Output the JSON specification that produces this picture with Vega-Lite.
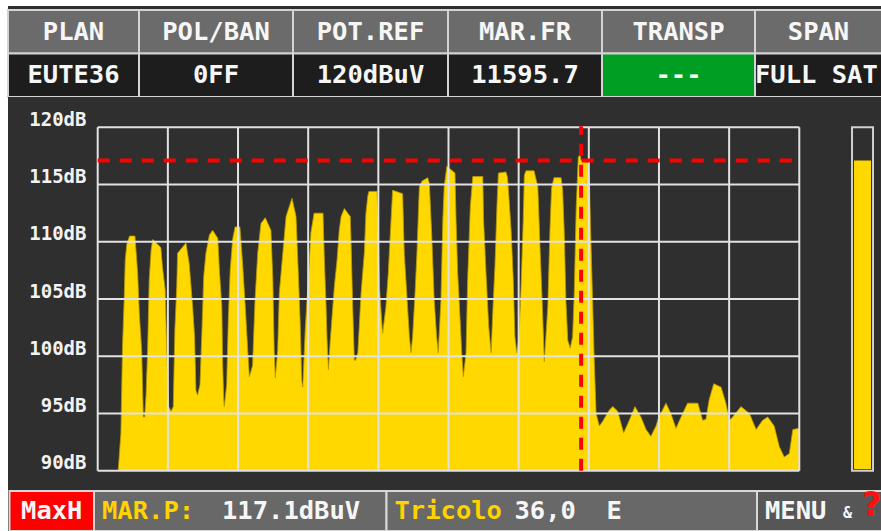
{
  "$schema": "https://vega.github.io/schema/vega-lite/v6.json",
  "padding": {"left": 7, "top": 6, "right": 0, "bottom": 0},
  "background": "#ffffff",
  "spacing": 0,
  "bounds": "flush",
  "resolve": {"scale": {"color": "independent"}},
  "config": {"view": {"fill": "#2f2f2f", "stroke": null}, "concat": {"spacing": 0}},
  "datasets": {
    "header": [
      {"row": "head", "col": 0, "span": 1, "kind": "head", "ctext": "PLAN", "ltext": ""},
      {"row": "head", "col": 1, "span": 1, "kind": "head", "ctext": "POL/BAN", "ltext": ""},
      {"row": "head", "col": 2, "span": 1, "kind": "head", "ctext": "POT.REF", "ltext": ""},
      {"row": "head", "col": 3, "span": 1, "kind": "head", "ctext": "MAR.FR", "ltext": ""},
      {"row": "head", "col": 4, "span": 1, "kind": "head", "ctext": "TRANSP", "ltext": ""},
      {"row": "head", "col": 5, "span": 1, "kind": "head", "ctext": "SPAN", "ltext": ""},
      {"row": "val", "col": 0, "span": 1, "kind": "val", "ctext": "EUTE36", "ltext": ""},
      {"row": "val", "col": 1, "span": 1, "kind": "val", "ctext": "0FF", "ltext": ""},
      {"row": "val", "col": 2, "span": 1, "kind": "val", "ctext": "120dBuV", "ltext": ""},
      {"row": "val", "col": 3, "span": 1, "kind": "val", "ctext": "11595.7", "ltext": ""},
      {"row": "val", "col": 4, "span": 1, "kind": "active", "ctext": "---", "ltext": ""},
      {"row": "val", "col": 5, "span": 1, "kind": "val", "ctext": "", "ltext": "FULL SAT"}
    ],
    "footer": [
      {"seg": 0, "band": "f", "span": 1, "kind": "mode", "mode": "MaxH", "label": "", "value": "", "menu": "", "amp": "", "help": ""},
      {"seg": 1, "band": "f", "span": 1, "kind": "info", "mode": "", "label": "MAR.P:", "value": "117.1dBuV", "menu": "", "amp": "", "help": ""},
      {"seg": 2, "band": "f", "span": 1, "kind": "info", "mode": "", "label": "Tricolo", "value": "36,0\u00a0\u00a0E", "menu": "", "amp": "", "help": ""},
      {"seg": 3, "band": "f", "span": 1, "kind": "menu", "mode": "", "label": "", "value": "", "menu": "MENU", "amp": "&", "help": "?"}
    ],
    "marker": [{"freq": 11595.7, "level": 117.1}],
    "hgrid": [{"dB": 90}, {"dB": 95}, {"dB": 100}, {"dB": 105}, {"dB": 110}, {"dB": 115}, {"dB": 120}],
    "vgrid": [{"f": 10700}, {"f": 10830}, {"f": 10960}, {"f": 11090}, {"f": 11220}, {"f": 11350}, {"f": 11480}, {"f": 11610}, {"f": 11740}, {"f": 11870}, {"f": 12000}],
    "spectrum": [
      {"f": 10738, "dB": 90}, {"f": 10743, "dB": 93.3}, {"f": 10746, "dB": 100.8}, {"f": 10749, "dB": 104.9}, {"f": 10751, "dB": 108.4}, {"f": 10754, "dB": 109.8}, {"f": 10759, "dB": 110.5}, {"f": 10769, "dB": 110.5}, {"f": 10774, "dB": 107.3}, {"f": 10777, "dB": 103.8}, {"f": 10781.5, "dB": 100.5}, {"f": 10784.5, "dB": 94.7}, {"f": 10787, "dB": 94.7}, {"f": 10789.5, "dB": 96.5}, {"f": 10792.5, "dB": 100.5}, {"f": 10795.5, "dB": 106.7}, {"f": 10799, "dB": 109.3}, {"f": 10802, "dB": 110.2}, {"f": 10817, "dB": 109.5}, {"f": 10820, "dB": 107.8}, {"f": 10825, "dB": 105.8}, {"f": 10828, "dB": 100.3}, {"f": 10831.5, "dB": 95.6}, {"f": 10836, "dB": 95.2}, {"f": 10840, "dB": 95.6}, {"f": 10843, "dB": 102.3}, {"f": 10846.5, "dB": 106.1}, {"f": 10848, "dB": 109}, {"f": 10863.5, "dB": 109.9}, {"f": 10869.5, "dB": 108.1}, {"f": 10876, "dB": 104.3}, {"f": 10879.5, "dB": 101.7}, {"f": 10882, "dB": 97}, {"f": 10885, "dB": 96.6}, {"f": 10889.5, "dB": 97.5}, {"f": 10893, "dB": 102}, {"f": 10896.5, "dB": 107}, {"f": 10900.5, "dB": 109}, {"f": 10907, "dB": 110.6}, {"f": 10913, "dB": 111}, {"f": 10922.5, "dB": 110.3}, {"f": 10925.5, "dB": 107.5}, {"f": 10930, "dB": 104.3}, {"f": 10931.5, "dB": 99.4}, {"f": 10933.5, "dB": 96.2}, {"f": 10934.5, "dB": 95.6}, {"f": 10939, "dB": 97.5}, {"f": 10942, "dB": 103.2}, {"f": 10945.5, "dB": 107.5}, {"f": 10950, "dB": 110.2}, {"f": 10954.5, "dB": 111.3}, {"f": 10963.5, "dB": 111.3}, {"f": 10968.5, "dB": 108.1}, {"f": 10973.5, "dB": 104.3}, {"f": 10978, "dB": 100.5}, {"f": 10981, "dB": 98.2}, {"f": 10987, "dB": 99.2}, {"f": 10991.5, "dB": 104.9}, {"f": 10996.5, "dB": 109}, {"f": 11002.5, "dB": 111.6}, {"f": 11010.5, "dB": 112.1}, {"f": 11021, "dB": 111}, {"f": 11024.5, "dB": 106.7}, {"f": 11027, "dB": 100.5}, {"f": 11029, "dB": 98.1}, {"f": 11033.5, "dB": 100.5}, {"f": 11036.5, "dB": 105.5}, {"f": 11043, "dB": 109}, {"f": 11049, "dB": 112.2}, {"f": 11060, "dB": 113.8}, {"f": 11067.5, "dB": 112.2}, {"f": 11071.5, "dB": 107.5}, {"f": 11075, "dB": 103.2}, {"f": 11078, "dB": 97.9}, {"f": 11080, "dB": 97.3}, {"f": 11084.5, "dB": 102.3}, {"f": 11092, "dB": 108.1}, {"f": 11095, "dB": 110.8}, {"f": 11101, "dB": 112.5}, {"f": 11117.5, "dB": 112.5}, {"f": 11120, "dB": 108.4}, {"f": 11123, "dB": 104.6}, {"f": 11125, "dB": 101.4}, {"f": 11127.5, "dB": 98.8}, {"f": 11131, "dB": 101.4}, {"f": 11138.5, "dB": 106.1}, {"f": 11143.5, "dB": 108.4}, {"f": 11147.5, "dB": 111}, {"f": 11151, "dB": 112.2}, {"f": 11157, "dB": 112.9}, {"f": 11168, "dB": 112.2}, {"f": 11169.5, "dB": 109.9}, {"f": 11172.5, "dB": 104.3}, {"f": 11175.5, "dB": 99.7}, {"f": 11177.5, "dB": 99.6}, {"f": 11182, "dB": 100.3}, {"f": 11188, "dB": 105.5}, {"f": 11194, "dB": 109}, {"f": 11197, "dB": 112.5}, {"f": 11200.5, "dB": 114}, {"f": 11202.5, "dB": 114.4}, {"f": 11217.5, "dB": 114.4}, {"f": 11219.5, "dB": 112}, {"f": 11222, "dB": 106.1}, {"f": 11226, "dB": 103.2}, {"f": 11228, "dB": 102}, {"f": 11234, "dB": 104.3}, {"f": 11238.5, "dB": 107.3}, {"f": 11242, "dB": 110.5}, {"f": 11246.5, "dB": 114.5}, {"f": 11265, "dB": 114.2}, {"f": 11268, "dB": 109}, {"f": 11273, "dB": 105.2}, {"f": 11277.5, "dB": 101.7}, {"f": 11280.5, "dB": 100.3}, {"f": 11283.5, "dB": 101.7}, {"f": 11288, "dB": 105.5}, {"f": 11291.5, "dB": 109}, {"f": 11296, "dB": 114.8}, {"f": 11301, "dB": 115.3}, {"f": 11311.5, "dB": 115.6}, {"f": 11314.5, "dB": 115.1}, {"f": 11319, "dB": 110.5}, {"f": 11323.5, "dB": 104.9}, {"f": 11328, "dB": 101.7}, {"f": 11331, "dB": 100.3}, {"f": 11336, "dB": 104.9}, {"f": 11339.5, "dB": 111.9}, {"f": 11342, "dB": 114.8}, {"f": 11347, "dB": 116.6}, {"f": 11362, "dB": 116}, {"f": 11364, "dB": 111.9}, {"f": 11367, "dB": 107.3}, {"f": 11371.5, "dB": 103.2}, {"f": 11374.5, "dB": 100.3}, {"f": 11377.5, "dB": 98.2}, {"f": 11382.5, "dB": 100.3}, {"f": 11385.5, "dB": 106.7}, {"f": 11390.5, "dB": 113.1}, {"f": 11395, "dB": 115.7}, {"f": 11413.5, "dB": 115.7}, {"f": 11415, "dB": 111.9}, {"f": 11419.5, "dB": 107.3}, {"f": 11424.5, "dB": 102.6}, {"f": 11429, "dB": 100.3}, {"f": 11432, "dB": 103.8}, {"f": 11436, "dB": 107.8}, {"f": 11440, "dB": 113.4}, {"f": 11442.5, "dB": 116}, {"f": 11456.5, "dB": 116.1}, {"f": 11459.5, "dB": 115.6}, {"f": 11466, "dB": 111}, {"f": 11470, "dB": 106.7}, {"f": 11473, "dB": 101.7}, {"f": 11476.5, "dB": 100.3}, {"f": 11480.5, "dB": 101.5}, {"f": 11484.5, "dB": 106.1}, {"f": 11488.5, "dB": 111.9}, {"f": 11490.5, "dB": 115.8}, {"f": 11493.5, "dB": 116.2}, {"f": 11508.5, "dB": 116.2}, {"f": 11515.5, "dB": 114.8}, {"f": 11520, "dB": 109}, {"f": 11523.5, "dB": 104.9}, {"f": 11527.5, "dB": 99.5}, {"f": 11534, "dB": 104.3}, {"f": 11538, "dB": 111}, {"f": 11541, "dB": 114.7}, {"f": 11545.5, "dB": 115.6}, {"f": 11558.5, "dB": 115.6}, {"f": 11561.5, "dB": 114.5}, {"f": 11564.5, "dB": 110.8}, {"f": 11567.5, "dB": 104.9}, {"f": 11571, "dB": 101.4}, {"f": 11575.5, "dB": 100.7}, {"f": 11580, "dB": 101.7}, {"f": 11583, "dB": 105.5}, {"f": 11586.5, "dB": 112.8}, {"f": 11590.5, "dB": 117.4}, {"f": 11593.5, "dB": 117.6}, {"f": 11595.7, "dB": 117.1}, {"f": 11608.5, "dB": 116.9}, {"f": 11611, "dB": 115.4}, {"f": 11614, "dB": 109.9}, {"f": 11617, "dB": 104.9}, {"f": 11620, "dB": 99.7}, {"f": 11623.5, "dB": 95}, {"f": 11629.5, "dB": 93.9}, {"f": 11635.5, "dB": 94.3}, {"f": 11648, "dB": 95.3}, {"f": 11654.5, "dB": 95.6}, {"f": 11663.5, "dB": 95.2}, {"f": 11674.5, "dB": 93.3}, {"f": 11685, "dB": 94.4}, {"f": 11695.5, "dB": 95.6}, {"f": 11706.5, "dB": 94.7}, {"f": 11716, "dB": 93.6}, {"f": 11725, "dB": 93}, {"f": 11734.5, "dB": 93.9}, {"f": 11739, "dB": 94.6}, {"f": 11753, "dB": 95.9}, {"f": 11762, "dB": 95}, {"f": 11771.5, "dB": 93.7}, {"f": 11781, "dB": 94.7}, {"f": 11793, "dB": 95.9}, {"f": 11812, "dB": 95.9}, {"f": 11821, "dB": 94.4}, {"f": 11827, "dB": 94.5}, {"f": 11833, "dB": 96.2}, {"f": 11841.5, "dB": 97.6}, {"f": 11855, "dB": 97.3}, {"f": 11864, "dB": 95.9}, {"f": 11870.5, "dB": 94.4}, {"f": 11876.5, "dB": 94.7}, {"f": 11892, "dB": 95.6}, {"f": 11907.5, "dB": 95}, {"f": 11920, "dB": 93.6}, {"f": 11932, "dB": 94.4}, {"f": 11941.5, "dB": 94.7}, {"f": 11953.5, "dB": 93.9}, {"f": 11963, "dB": 92.1}, {"f": 11972, "dB": 91.2}, {"f": 11981.5, "dB": 91.5}, {"f": 11988, "dB": 93.6}, {"f": 12000, "dB": 93.7}
    ]
  },
  "vconcat": [
    {
      "width": 874,
      "height": 91,
      "data": {"name": "header"},
      "layer": [
        {
          "mark": {"type": "bar", "stroke": "#d4d4d4", "strokeWidth": 2},
          "encoding": {
            "x": {"field": "span", "type": "quantitative", "stack": "zero", "scale": {"domain": [0, 1, 2, 3, 4, 5, 6], "range": [0, 131, 285, 440, 594, 747, 874], "nice": false, "zero": false}, "axis": null},
            "y": {"field": "row", "type": "nominal", "scale": {"domain": ["head", "val"], "range": [4, 91], "paddingInner": 0, "paddingOuter": 0}, "axis": null},
            "order": {"field": "col", "type": "quantitative"},
            "color": {"field": "kind", "type": "nominal", "scale": {"domain": ["head", "val", "active"], "range": ["#6b6b6b", "#1d1d1d", "#009e22"]}, "legend": null}
          }
        },
        {
          "mark": {"type": "text", "font": "DejaVu Sans Mono", "fontSize": 25.5, "fontWeight": "bold", "color": "#f6f6f6", "align": "center", "baseline": "middle"},
          "encoding": {
            "x": {"field": "span", "type": "quantitative", "stack": "zero", "bandPosition": 0.5, "axis": null},
            "y": {"field": "row", "type": "nominal", "axis": null},
            "order": {"field": "col", "type": "quantitative"},
            "text": {"field": "ctext", "type": "nominal"}
          }
        },
        {
          "mark": {"type": "text", "font": "DejaVu Sans Mono", "fontSize": 25.5, "fontWeight": "bold", "color": "#f6f6f6", "align": "left", "baseline": "middle", "dx": 0, "clip": true},
          "encoding": {
            "x": {"field": "span", "type": "quantitative", "stack": "zero", "bandPosition": 0, "axis": null},
            "y": {"field": "row", "type": "nominal", "axis": null},
            "order": {"field": "col", "type": "quantitative"},
            "text": {"field": "ltext", "type": "nominal"}
          }
        }
      ]
    },
    {
      "width": 874,
      "height": 394,
      "layer": [
        {
          "data": {"name": "spectrum"},
          "mark": {"type": "area", "color": "#ffd800", "interpolate": "linear"},
          "encoding": {
            "x": {"field": "f", "type": "quantitative", "scale": {"domain": [10700, 12000], "range": [89.7, 791.3], "nice": false, "zero": false}, "axis": null},
            "y": {"field": "dB", "type": "quantitative", "scale": {"domain": [90, 120], "range": [373.7, 30.3], "nice": false, "zero": false},
              "axis": {"values": [90, 95, 100, 105, 110, 115, 120], "labelExpr": "datum.value + 'dB'", "orient": "left", "offset": -78, "domain": false, "ticks": false, "grid": false, "labelPadding": 0, "labelFont": "DejaVu Sans Mono", "labelFontWeight": "bold", "labelFontSize": 19, "labelColor": "#f2f2f2", "labelOffset": -8, "labelFlush": false, "labelOverlap": false, "labelAlign": "right", "labelBaseline": "middle", "title": null}},
            "y2": {"datum": 90}
          }
        },
        {
          "data": {"name": "spectrum"},
          "mark": {"type": "line", "color": "#b89c00", "strokeWidth": 0.8},
          "encoding": {
            "x": {"field": "f", "type": "quantitative"},
            "y": {"field": "dB", "type": "quantitative"}
          }
        },
        {
          "data": {"name": "hgrid"},
          "mark": {"type": "rule", "color": "#e2e2e2", "strokeWidth": 2},
          "encoding": {
            "y": {"field": "dB", "type": "quantitative"},
            "x": {"datum": 10700, "type": "quantitative"},
            "x2": {"datum": 12000}
          }
        },
        {
          "data": {"name": "vgrid"},
          "mark": {"type": "rule", "color": "#e2e2e2", "strokeWidth": 2},
          "encoding": {
            "x": {"field": "f", "type": "quantitative"},
            "y": {"datum": 90, "type": "quantitative"},
            "y2": {"datum": 120}
          }
        },
        {
          "data": {"name": "marker"},
          "mark": {"type": "rect", "fill": "#2f2f2f", "stroke": "#d0d0d0", "strokeWidth": 2},
          "encoding": {
            "x": {"datum": 12097.7, "type": "quantitative"},
            "x2": {"datum": 12136.6},
            "y": {"datum": 90, "type": "quantitative"},
            "y2": {"datum": 120}
          }
        },
        {
          "data": {"name": "marker"},
          "mark": {"type": "rect", "fill": "#ffd800"},
          "encoding": {
            "x": {"datum": 12101.4, "type": "quantitative"},
            "x2": {"datum": 12132.9},
            "y": {"field": "level", "type": "quantitative"},
            "y2": {"datum": 90.15}
          }
        },
        {
          "data": {"name": "marker"},
          "mark": {"type": "rule", "color": "#ff0000", "strokeWidth": 4, "strokeDash": [12, 10]},
          "encoding": {
            "y": {"field": "level", "type": "quantitative"},
            "x": {"datum": 10700, "type": "quantitative"},
            "x2": {"datum": 12000}
          }
        },
        {
          "data": {"name": "marker"},
          "mark": {"type": "rule", "color": "#ff0000", "strokeWidth": 4, "strokeDash": [12, 9]},
          "encoding": {
            "x": {"field": "freq", "type": "quantitative"},
            "y": {"datum": 90, "type": "quantitative"},
            "y2": {"datum": 120.1}
          }
        }
      ]
    },
    {
      "width": 874,
      "height": 40,
      "data": {"name": "footer"},
      "layer": [
        {
          "mark": {"type": "bar", "stroke": "#d8d8d8", "strokeWidth": 2},
          "encoding": {
            "x": {"field": "span", "type": "quantitative", "stack": "zero", "scale": {"domain": [0, 1, 2, 3, 4], "range": [1.5, 86, 378.5, 749, 874], "nice": false, "zero": false}, "axis": null},
            "y": {"field": "band", "type": "nominal", "scale": {"paddingInner": 0, "paddingOuter": 0}, "axis": null},
            "order": {"field": "seg", "type": "quantitative"},
            "color": {"field": "kind", "type": "nominal", "scale": {"domain": ["mode", "info", "menu"], "range": ["#ff0000", "#686868", "#565656"]}, "legend": null}
          }
        },
        {
          "mark": {"type": "text", "font": "DejaVu Sans Mono", "fontSize": 25.5, "fontWeight": "bold", "color": "#f6f6f6", "align": "center", "baseline": "middle"},
          "encoding": {
            "x": {"field": "span", "type": "quantitative", "stack": "zero", "bandPosition": 0.5, "axis": null},
            "y": {"field": "band", "type": "nominal", "axis": null},
            "order": {"field": "seg", "type": "quantitative"},
            "text": {"field": "mode", "type": "nominal"}
          }
        },
        {
          "mark": {"type": "text", "font": "DejaVu Sans Mono", "fontSize": 25.5, "fontWeight": "bold", "color": "#ffd200", "align": "left", "baseline": "middle", "dx": 8},
          "encoding": {
            "x": {"field": "span", "type": "quantitative", "stack": "zero", "bandPosition": 0, "axis": null},
            "y": {"field": "band", "type": "nominal", "axis": null},
            "order": {"field": "seg", "type": "quantitative"},
            "text": {"field": "label", "type": "nominal"}
          }
        },
        {
          "mark": {"type": "text", "font": "DejaVu Sans Mono", "fontSize": 25.5, "fontWeight": "bold", "color": "#f6f6f6", "align": "left", "baseline": "middle", "dx": 128},
          "encoding": {
            "x": {"field": "span", "type": "quantitative", "stack": "zero", "bandPosition": 0, "axis": null},
            "y": {"field": "band", "type": "nominal", "axis": null},
            "order": {"field": "seg", "type": "quantitative"},
            "text": {"field": "value", "type": "nominal"}
          }
        },
        {
          "mark": {"type": "text", "font": "DejaVu Sans Mono", "fontSize": 25.5, "fontWeight": "bold", "color": "#f6f6f6", "align": "left", "baseline": "middle", "dx": 8},
          "encoding": {
            "x": {"field": "span", "type": "quantitative", "stack": "zero", "bandPosition": 0, "axis": null},
            "y": {"field": "band", "type": "nominal", "axis": null},
            "order": {"field": "seg", "type": "quantitative"},
            "text": {"field": "menu", "type": "nominal"}
          }
        },
        {
          "mark": {"type": "text", "font": "DejaVu Sans Mono", "fontSize": 15, "fontWeight": "bold", "color": "#f6f6f6", "align": "left", "baseline": "middle", "dx": 86, "dy": 2},
          "encoding": {
            "x": {"field": "span", "type": "quantitative", "stack": "zero", "bandPosition": 0, "axis": null},
            "y": {"field": "band", "type": "nominal", "axis": null},
            "order": {"field": "seg", "type": "quantitative"},
            "text": {"field": "amp", "type": "nominal"}
          }
        },
        {
          "mark": {"type": "text", "font": "DejaVu Sans", "fontSize": 34, "fontWeight": "bold", "color": "#ff1010", "align": "left", "baseline": "middle", "dx": 105, "dy": -5},
          "encoding": {
            "x": {"field": "span", "type": "quantitative", "stack": "zero", "bandPosition": 0, "axis": null},
            "y": {"field": "band", "type": "nominal", "axis": null},
            "order": {"field": "seg", "type": "quantitative"},
            "text": {"field": "help", "type": "nominal"}
          }
        }
      ]
    }
  ]
}
